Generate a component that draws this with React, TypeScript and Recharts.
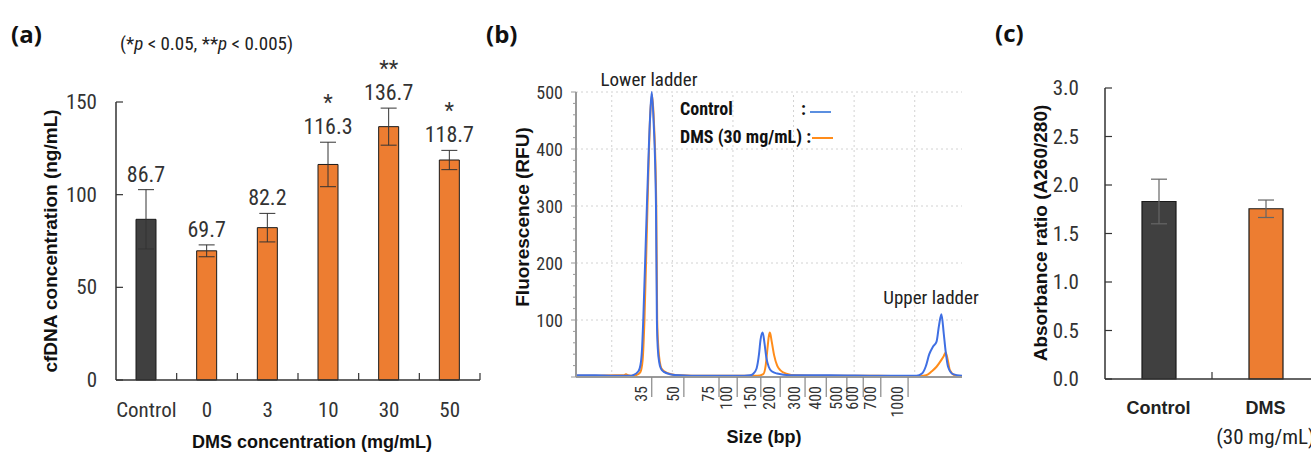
import React from 'react';
import { BarChart, Bar, XAxis, YAxis, ErrorBar, Cell, LabelList, LineChart, Line, ReferenceLine } from 'recharts';

const NARROW = '"Liberation Sans Narrow", "Arial Narrow", "Roboto Condensed", sans-serif';
const SANS = '"Liberation Sans", Arial, sans-serif';
const DARK = '#404040';
const ORANGE = '#ED7D31';

// (a) cfDNA concentration
const doseLabels = ['Control', '0', '3', '10', '30', '50'];
const cfdnaMean = [86.7, 69.7, 82.2, 116.3, 136.7, 118.7];
const cfdnaErr = [16, 3.2, 7.7, 12, 10, 5.2];
const cfdnaSig = ['', '', '', '*', '**', '*'];
const cfdnaTicks = [0, 50, 100, 150];

// (b) electropherogram (migration time vs RFU)
const ladderSizes = ['35', '50', '75', '100', '150', '200', '300', '400', '500', '600', '700', '1000'];
const ladderPos = [26.6, 31.9, 37.7, 40.7, 44.6, 47.8, 51.9, 55.4, 58.8, 61.5, 64.4, 68.9];
const ctrlTime = [14.1, 17.3, 20.5, 23.0, 23.5, 24.4, 24.8, 25.0, 25.2, 25.8, 26.3, 26.6, 26.9, 27.3, 27.45, 27.6, 27.85, 28.1, 28.6, 29.6, 31.3, 34.6, 40.9, 42.8, 43.3, 43.9, 44.3, 44.55, 44.9, 45.2, 45.5, 45.9, 46.4, 47.3, 49.4, 56.0, 64.3, 70.3, 71.2, 71.8, 72.4, 73.0, 73.6, 74.0, 74.4, 74.8, 75.1, 75.5, 76.3, 77.8];
const ctrlRfu = [3, 3, 2, 2, 3, 10, 25, 50, 100, 300, 450, 500, 450, 300, 100, 50, 25, 15, 9, 5, 3, 2, 2, 3, 5, 15, 40, 65, 78, 60, 35, 18, 10, 6, 3, 3, 2, 2, 6, 18, 40, 53, 62, 90, 110, 75, 45, 18, 5, 2];
const dmsTime = [14.1, 17.3, 20.5, 22.0, 22.35, 22.7, 23.5, 24.0, 24.7, 25.1, 25.4, 25.9, 26.35, 26.65, 26.95, 27.35, 27.5, 27.7, 27.95, 28.2, 28.8, 29.8, 31.5, 35.0, 44.0, 45.0, 45.4, 45.7, 45.9, 46.1, 46.4, 46.8, 47.3, 47.8, 48.8, 50.5, 56.0, 64.0, 70.5, 71.9, 72.8, 73.6, 74.4, 74.8, 75.1, 75.45, 75.8, 76.6, 77.8];
const dmsRfu = [2, 2, 3, 3, 5, 3, 2, 3, 8, 30, 100, 300, 460, 495, 450, 300, 100, 50, 25, 15, 9, 5, 3, 2, 2, 5, 20, 50, 70, 78, 62, 38, 20, 12, 6, 3, 2, 2, 1, 3, 10, 18, 30, 37, 43, 30, 12, 3, 1];
const rfuTicks = [0, 20, 40, 60, 80, 100, 120, 140, 160, 180, 200, 220, 240, 260, 280, 300, 320, 340, 360, 380, 400, 420, 440, 460, 480, 500];
const rfuGrid = [100, 200, 300, 400, 500];
const timeGrid = [20, 30, 40, 50, 60, 70];
const timeDomain = [14.1, 77.8];

// (c) absorbance ratio
const groupLabels = ['Control', 'DMS'];
const groupSub = ['', '(30 mg/mL)'];
const ratioMean = [1.83, 1.755];
const ratioErr = [0.23, 0.09];
const ratioTicks = [0, 0.5, 1, 1.5, 2, 2.5, 3];

const dataA = doseLabels.map((name, i) => ({ name, mean: cfdnaMean[i], err: cfdnaErr[i] }));
const ctrlData = ctrlTime.map((t, i) => ({ t, rfu: ctrlRfu[i] }));
const dmsData = dmsTime.map((t, i) => ({ t, rfu: dmsRfu[i] }));
const dataC = groupLabels.map((name, i) => ({ name, mean: ratioMean[i], err: ratioErr[i] }));

// y ticks pointing into the plot, labels outside
const YTickIn = (props: any) => {
  const { x, y, payload, digits, gap, size } = props;
  return (
    <g>
      <line x1={x} x2={x + 7} y1={y} y2={y} stroke="#333" strokeWidth={1.2} />
      <text x={x - gap} y={y} textAnchor="end" dominantBaseline="central" fontFamily={NARROW} fontSize={size} fill="#333">
        {Number(payload.value).toFixed(digits)}
      </text>
    </g>
  );
};

const XTickA = (props: any) => {
  const { x, y, payload } = props;
  const band = 364 / doseLabels.length;
  return (
    <g>
      <text x={x} y={y + 30} textAnchor="middle" dominantBaseline="central" fontFamily={NARROW} fontSize={21} fill="#333">
        {payload.value}
      </text>
      <line x1={x + band / 2} x2={x + band / 2} y1={y} y2={y - 7} stroke="#333" strokeWidth={1.2} />
    </g>
  );
};

const XTickC = (props: any) => {
  const { x, y, payload } = props;
  const i = groupLabels.indexOf(payload.value);
  const band = 214 / groupLabels.length;
  return (
    <g>
      <text x={x} y={y + 29} textAnchor="middle" dominantBaseline="central" fontFamily={SANS} fontWeight="bold" fontSize={18} fill="#222">
        {payload.value}
      </text>
      {groupSub[i] ? (
        <text x={x} y={y + 58} textAnchor="middle" dominantBaseline="central" fontFamily={NARROW} fontSize={21} fill="#222">
          {groupSub[i]}
        </text>
      ) : null}
      <line x1={x + band / 2} x2={x + band / 2} y1={y} y2={y - 7} stroke="#333" strokeWidth={1.2} />
    </g>
  );
};

const ValueLabel = (props: any) => {
  const { x, y, width, value } = props;
  const i = cfdnaMean.indexOf(value);
  const errPx = (cfdnaErr[i] * 278) / 150;
  const base = y - errPx - 8;
  return (
    <g>
      <text x={x + width / 2} y={base} textAnchor="middle" fontFamily={NARROW} fontSize={22} fill="#333">
        {value.toFixed(1)}
      </text>
      {cfdnaSig[i] ? (
        <text x={x + width / 2} y={base - 24} textAnchor="middle" fontFamily={NARROW} fontSize={22} fill="#333">
          {cfdnaSig[i]}
        </text>
      ) : null}
    </g>
  );
};

const YTickB = (props: any) => {
  const { x, y, payload } = props;
  const major = payload.value % 100 === 0;
  return (
    <g>
      <line x1={x - (major ? 5 : 3)} x2={x} y1={y} y2={y} stroke="#999" strokeWidth={1} />
      {major && payload.value > 0 ? (
        <text x={x - 13} y={y} textAnchor="end" dominantBaseline="central" fontFamily={NARROW} fontSize={18} fill="#333">
          {payload.value}
        </text>
      ) : null}
    </g>
  );
};

const XTickB = (props: any) => {
  const { x, y, payload } = props;
  const i = ladderPos.indexOf(payload.value);
  return (
    <g>
      <line x1={x} x2={x} y1={y} y2={y + 20} stroke="#888" strokeWidth={1.2} />
      <text
        x={x - 5}
        y={y + 9}
        textAnchor="end"
        transform={`rotate(-90 ${x - 5} ${y + 9})`}
        fontFamily={NARROW}
        fontSize={16}
        fill="#333"
      >
        {ladderSizes[i]}
      </text>
    </g>
  );
};

export default function App() {
  return (
    <div style={{ position: 'absolute', left: 0, top: 0, width: 1311, height: 452, overflow: 'hidden', background: '#fff' }}>
      {/* (a) */}
      <div style={{ position: 'absolute', left: 0, top: 0 }}>
        <BarChart width={490} height={452} data={dataA} margin={{ top: 102, right: 10, left: 0, bottom: 12 }}>
          <XAxis
            dataKey="name"
            height={60}
            tickSize={0}
            tickMargin={0}
            interval={0}
            tick={<XTickA />}
            axisLine={{ stroke: '#333', strokeWidth: 1.5 }}
            tickLine={false}
          />
          <YAxis
            width={116}
            domain={[0, 150]}
            ticks={cfdnaTicks}
            tickSize={0}
            tickMargin={0}
            interval={0}
            tick={<YTickIn digits={0} gap={19} size={21} />}
            axisLine={{ stroke: '#333', strokeWidth: 1.5 }}
            tickLine={false}
          />
          <Bar dataKey="mean" barSize={20} stroke="#1a1a1a" strokeWidth={1} isAnimationActive={false}>
            {dataA.map((d, i) => (
              <Cell key={d.name} fill={i === 0 ? DARK : ORANGE} />
            ))}
            <ErrorBar dataKey="err" width={8} stroke="#333" strokeWidth={1} direction="y" />
            <LabelList dataKey="mean" content={<ValueLabel />} />
          </Bar>
        </BarChart>
      </div>

      {/* (b) */}
      <div style={{ position: 'absolute', left: 480, top: 0 }}>
        <LineChart width={500} height={452} margin={{ top: 92, right: 18, left: 0, bottom: 15 }}>
          <XAxis
            dataKey="t"
            type="number"
            domain={timeDomain}
            allowDataOverflow
            ticks={ladderPos}
            interval={0}
            height={60}
            tickSize={0}
            tickMargin={0}
            tick={<XTickB />}
            tickLine={false}
            axisLine={{ stroke: '#999', strokeWidth: 2 }}
          />
          <YAxis
            width={96}
            domain={[0, 500]}
            ticks={rfuTicks}
            interval={0}
            tickSize={0}
            tickMargin={0}
            tick={<YTickB />}
            tickLine={false}
            axisLine={{ stroke: '#999', strokeWidth: 2 }}
          />
          {timeGrid.map((t) => (
            <ReferenceLine key={`vx${t}`} x={t} stroke="#d2d2d2" strokeDasharray="2 3" />
          ))}
          {rfuGrid.map((v) => (
            <ReferenceLine key={`hy${v}`} y={v} stroke="#d2d2d2" strokeDasharray="2 3" />
          ))}
          <Line data={dmsData} dataKey="rfu" type="monotone" stroke="#FF8C1A" strokeWidth={2} dot={false} isAnimationActive={false} />
          <Line data={ctrlData} dataKey="rfu" type="monotone" stroke="#3F6FE3" strokeWidth={2} dot={false} isAnimationActive={false} />
        </LineChart>
      </div>

      {/* (c) */}
      <div style={{ position: 'absolute', left: 980, top: 0 }}>
        <BarChart width={345} height={452} data={dataC} margin={{ top: 88, right: 6, left: 0, bottom: 13 }}>
          <XAxis
            dataKey="name"
            height={60}
            tickSize={0}
            tickMargin={0}
            interval={0}
            tick={<XTickC />}
            axisLine={{ stroke: '#333', strokeWidth: 1.5 }}
            tickLine={false}
          />
          <YAxis
            width={125}
            domain={[0, 3]}
            ticks={ratioTicks}
            tickSize={0}
            tickMargin={0}
            interval={0}
            tick={<YTickIn digits={1} gap={26} size={21} />}
            axisLine={{ stroke: '#333', strokeWidth: 1.5 }}
            tickLine={false}
          />
          <Bar dataKey="mean" barSize={34} stroke="#1a1a1a" strokeWidth={1.2} isAnimationActive={false}>
            {dataC.map((d, i) => (
              <Cell key={d.name} fill={i === 0 ? DARK : ORANGE} />
            ))}
            <ErrorBar dataKey="err" width={8} stroke="#666" strokeWidth={1.2} direction="y" />
          </Bar>
        </BarChart>
      </div>

      {/* titles and notes */}
      <svg width={1311} height={452} style={{ position: 'absolute', left: 0, top: 0, pointerEvents: 'none' }}>
        <text x={11} y={33} dominantBaseline="central" fontFamily='"Open Sans", sans-serif' fontWeight="bold" fontSize={24} fill="#111">(a)</text>
        <text x={486} y={33} dominantBaseline="central" fontFamily='"Open Sans", sans-serif' fontWeight="bold" fontSize={24} fill="#111">(b)</text>
        <text x={995} y={32} dominantBaseline="central" fontFamily='"Open Sans", sans-serif' fontWeight="bold" fontSize={24} fill="#111">(c)</text>
        <text x={120} y={43} dominantBaseline="central" fontFamily={NARROW} fontSize={19} fill="#222">
          (*<tspan fontStyle="italic">p</tspan> {'< 0.05, **'}<tspan fontStyle="italic">p</tspan> {'< 0.005)'}
        </text>

        <text x={50} y={241} transform="rotate(-90 50 241)" textAnchor="middle" dominantBaseline="central" fontFamily={SANS} fontWeight="bold" fontSize={19} fill="#111">
          cfDNA concentration (ng/mL)
        </text>
        <text x={312} y={442} textAnchor="middle" dominantBaseline="central" fontFamily={SANS} fontWeight="bold" fontSize={18} fill="#111">
          DMS concentration (mg/mL)
        </text>

        <text x={522} y={217} transform="rotate(-90 522 217)" textAnchor="middle" dominantBaseline="central" fontFamily={SANS} fontWeight="bold" fontSize={19} fill="#111">
          Fluorescence (RFU)
        </text>
        <text x={764} y={437} textAnchor="middle" dominantBaseline="central" fontFamily={SANS} fontWeight="bold" fontSize={18} fill="#111">
          Size (bp)
        </text>
        <text x={649} y={79} textAnchor="middle" dominantBaseline="central" fontFamily={NARROW} fontSize={19} fill="#222">Lower ladder</text>
        <text x={931} y={297} textAnchor="middle" dominantBaseline="central" fontFamily={NARROW} fontSize={19} fill="#222">Upper ladder</text>
        <text x={680} y={108} dominantBaseline="central" fontFamily={NARROW} fontWeight="bold" fontSize={18} fill="#111">Control</text>
        <text x={801} y={108} dominantBaseline="central" fontFamily={NARROW} fontWeight="bold" fontSize={18} fill="#111">:</text>
        <line x1={810} x2={831} y1={112} y2={112} stroke="#5B8FE0" strokeWidth={2} />
        <text x={680} y={136} dominantBaseline="central" fontFamily={NARROW} fontWeight="bold" fontSize={18} fill="#111">DMS (30 mg/mL) :</text>
        <line x1={812} x2={833} y1={138} y2={138} stroke="#FF8C1A" strokeWidth={2} />

        <text x={1040} y={233} transform="rotate(-90 1040 233)" textAnchor="middle" dominantBaseline="central" fontFamily={SANS} fontWeight="bold" fontSize={19} fill="#111">
          Absorbance ratio (A260/280)
        </text>
      </svg>
    </div>
  );
}
